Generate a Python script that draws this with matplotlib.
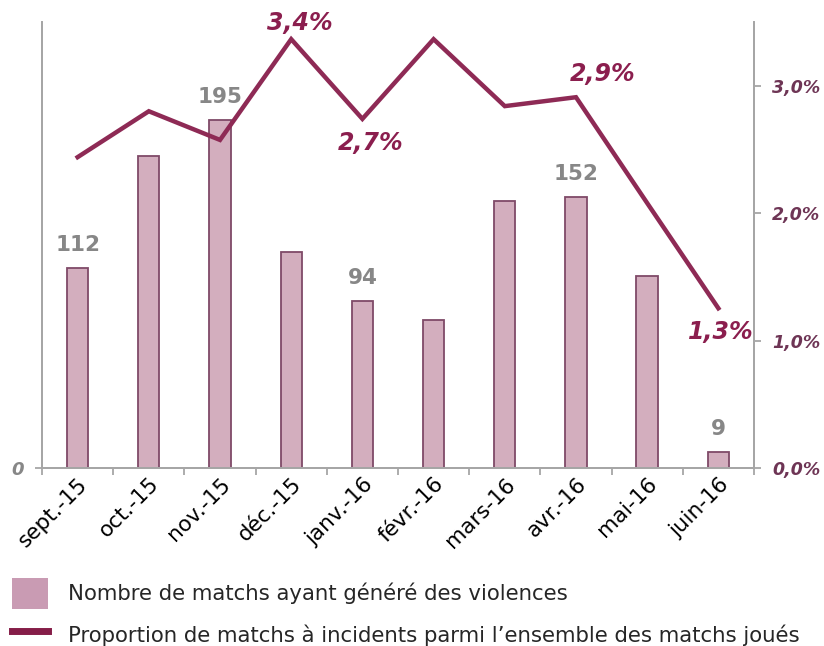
import matplotlib

matplotlib.use("Agg")
import matplotlib.pyplot as plt
import numpy as np
from matplotlib.lines import Line2D
from matplotlib.patches import Patch

# Data
months = ["sept.-15", "oct.-15", "nov.-15", "déc.-15", "janv.-16",
          "févr.-16", "mars-16", "avr.-16", "mai-16", "juin-16"]
matches_violence = [112, 175, 195, 121, 94, 83, 150, 152, 108, 9]
share_incidents = [2.44, 2.80, 2.575, 3.365, 2.74, 3.365, 2.84, 2.91, 2.08, 1.255]

# which points carry a label, with their text offsets (points)
bar_labelled = [0, 2, 4, 7, 9]
line_labels = {3: (6, 12), 4: (6, -17), 7: (19, 17), 9: (2, -17)}

BAR_FILL = "#d3aebe"
BAR_EDGE = "#7f4a68"
LINE_COLOR = "#8e2a55"
LABEL_PCT = "#8b1e4e"
AXIS_PCT = "#6e3555"
SPINE = "#a6a6a6"

plt.rcParams["font.family"] = ["DejaVu Sans"]

fig = plt.figure(figsize=(8.24, 6.46), dpi=100)
ax = fig.add_axes([0.051, 0.275, 0.864, 0.691])
ax2 = ax.twinx()

x = np.arange(len(months))
ax.bar(x, matches_violence, width=0.3, color=BAR_FILL, edgecolor=BAR_EDGE,
       linewidth=1.3, zorder=2)
ax.set_ylim(0, 250)
ax.set_xlim(-0.5, len(months) - 0.5)

for i in bar_labelled:
    ax.annotate(str(matches_violence[i]), (x[i], matches_violence[i]),
                xytext=(0, 16.5), textcoords="offset points", ha="center",
                va="center", fontsize=15.5, fontweight="bold", color="#878787")

ax2.plot(x, share_incidents, color=LINE_COLOR, linewidth=3.2,
         solid_joinstyle="miter", zorder=3)
ax2.set_ylim(0, 3.5)
for i, (dx, dy) in line_labels.items():
    ax2.annotate(f"{share_incidents[i]:.1f}".replace(".", ",") + "%",
                 (x[i], share_incidents[i]), xytext=(dx, dy),
                 textcoords="offset points", ha="center", va="center",
                 fontsize=17, fontweight="bold", fontstyle="italic",
                 color=LABEL_PCT)

# spines
for a in (ax, ax2):
    a.spines["top"].set_visible(False)
    for s in ("left", "right", "bottom"):
        a.spines[s].set_color(SPINE)
        a.spines[s].set_linewidth(1.3)

# x axis: ticks between categories, labels at centres
ax.set_xticks(np.arange(-0.5, len(months)), labels=[])
ax.set_xticks(x, labels=months, minor=True)
ax.tick_params(axis="x", which="major", length=5, width=1.3, color=SPINE)
ax.tick_params(axis="x", which="minor", length=0, pad=4, labelsize=15.5)
for lbl in ax.get_xticklabels(minor=True):
    lbl.set_rotation(45)
    lbl.set_ha("right")
    lbl.set_rotation_mode("anchor")

ax.set_yticks([0], labels=["0"])
ax.tick_params(axis="y", length=5, width=1.3, color=SPINE, pad=8)
for lbl in ax.get_yticklabels():
    lbl.set_fontweight("bold")
    lbl.set_fontstyle("italic")
    lbl.set_fontsize(13)
    lbl.set_color("#878787")

pct_ticks = [0, 1, 2, 3]
ax2.set_yticks(pct_ticks, labels=[f"{t},0%" for t in pct_ticks])
ax2.tick_params(axis="y", length=5, width=1.3, color=SPINE, pad=8)
for lbl in ax2.get_yticklabels():
    lbl.set_fontweight("bold")
    lbl.set_fontstyle("italic")
    lbl.set_fontsize(12.5)
    lbl.set_color(AXIS_PCT)

handles = [
    Patch(facecolor="#c99bb3", edgecolor="none"),
    Line2D([0], [0], color="#851d48", linewidth=5),
]
fig.legend(handles,
           ["Nombre de matchs ayant généré des violences",
            "Proportion de matchs à incidents parmi l’ensemble des matchs joués"],
           loc="upper left", bbox_to_anchor=(0.0146, 0.105), frameon=False,
           fontsize=15.3, handlelength=1.7, handleheight=1.85,
           handletextpad=0.95, labelspacing=0.5, borderpad=0, borderaxespad=0,
           labelcolor="#262626")

fig.savefig("out.png", dpi=100)
